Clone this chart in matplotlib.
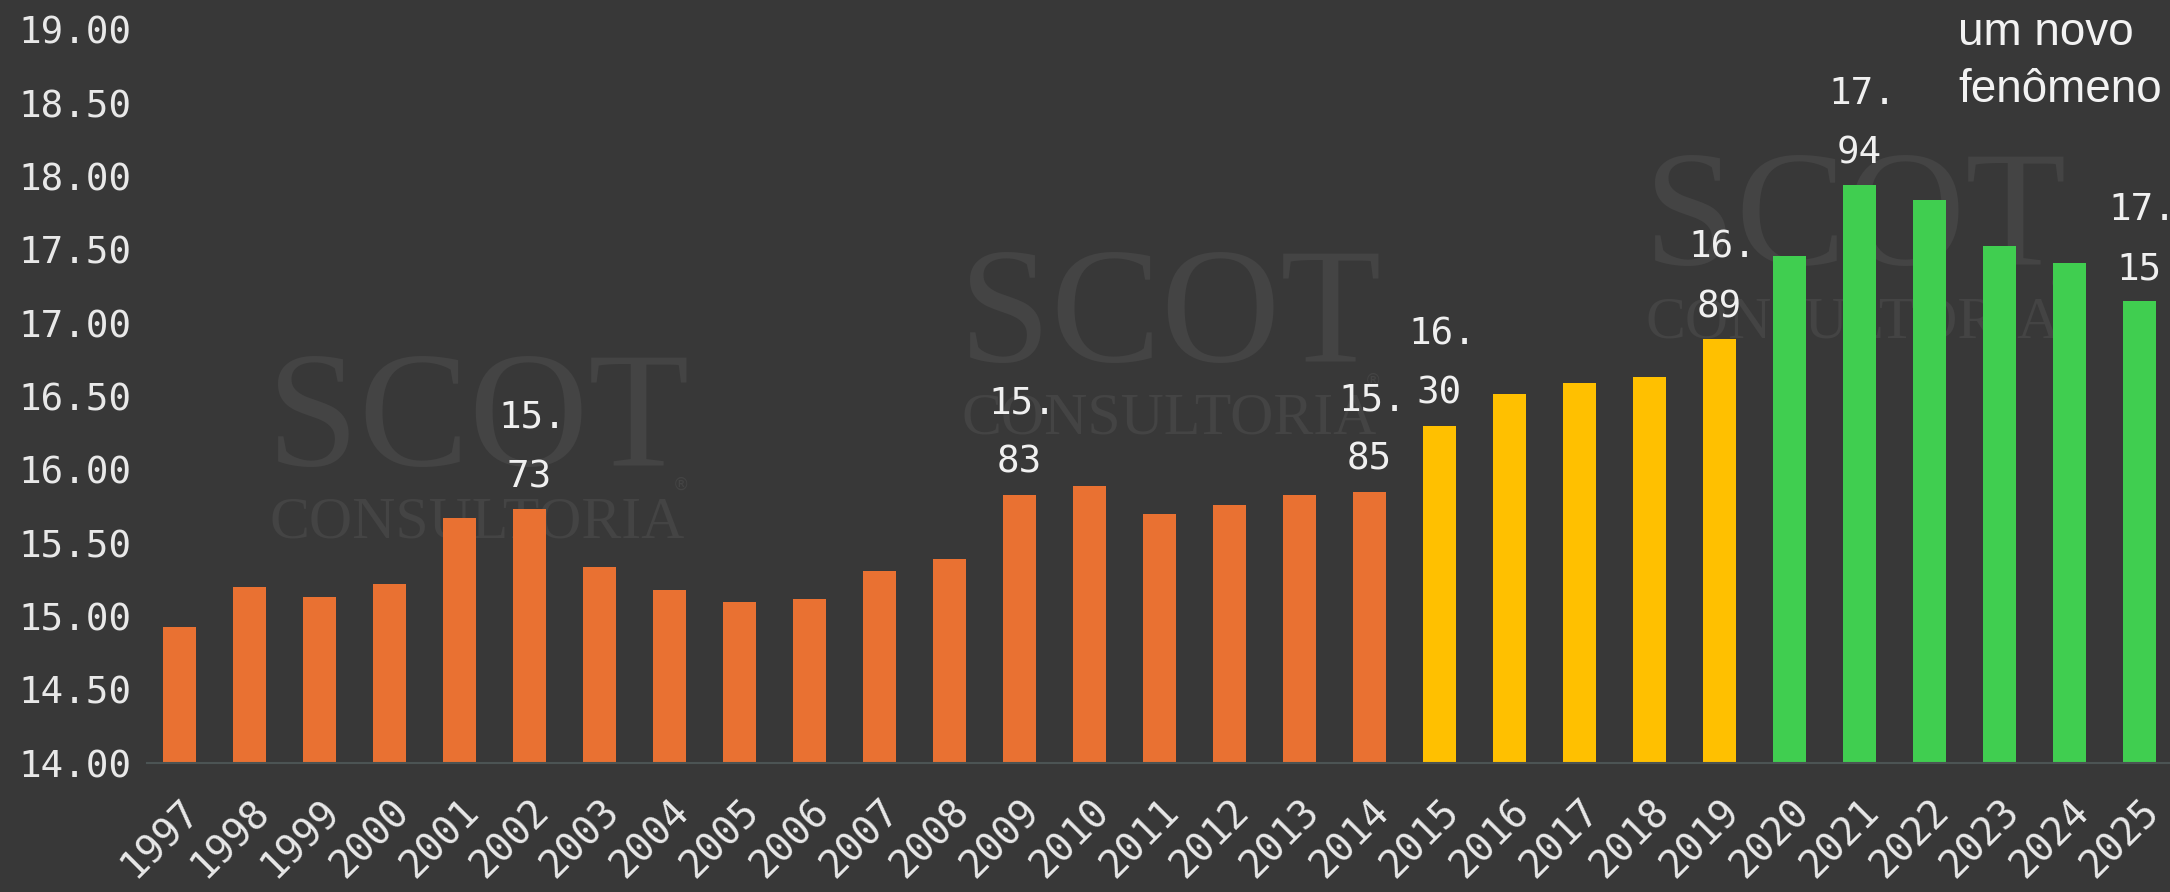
import matplotlib.pyplot as plt
from matplotlib.transforms import ScaledTranslation

# Data
years = [str(y) for y in range(1997, 2026)]
values = [14.93, 15.20, 15.13, 15.22, 15.67, 15.73, 15.34, 15.18, 15.10, 15.12,
          15.31, 15.39, 15.83, 15.89, 15.70, 15.76, 15.83, 15.85, 16.30, 16.52,
          16.59, 16.63, 16.89, 17.46, 17.94, 17.84, 17.53, 17.41, 17.15]
# period of each bar: 0 = 1997-2014, 1 = 2015-2019, 2 = 2020-2025
period = [0] * 18 + [1] * 5 + [2] * 6
labelled = ['2002', '2009', '2014', '2015', '2019', '2021', '2025']
yticks = [14.0, 14.5, 15.0, 15.5, 16.0, 16.5, 17.0, 17.5, 18.0, 18.5, 19.0]

bg = '#383838'
period_colors = ['#E97132', '#FFC000', '#40CE50']
W, H = 2170, 892

fig = plt.figure(figsize=(W / 100, H / 100), dpi=100)
fig.patch.set_facecolor(bg)


def fx(px):
    return px / W


def fy(px_from_top):
    return 1 - px_from_top / H


# Watermarks, kept behind the axes
wm_color = '#444444'
for left, top in [(273, 360), (965, 256), (1650, 159)]:
    fig.text(fx(left - 6), fy(top - 10), 'SCOT', family='Liberation Serif',
             fontsize=119, color=wm_color, va='top', ha='left', zorder=-1)
    fig.text(fx(left - 4), fy(top + 178), 'CONSULTORIA', family='Liberation Serif',
             fontsize=43, color=wm_color, va='baseline', ha='left', zorder=-1)
    fig.text(fx(left + 408), fy(top + 125), '®', family='DejaVu Sans',
             fontsize=12, color=wm_color, va='center', ha='center', zorder=-1)

ax = fig.add_axes([fx(147), fy(763), 1 - fx(147), fy(30) - fy(763)])
ax.set_facecolor('none')

x = list(range(len(years)))
colors = [period_colors[p] for p in period]
ax.bar(x, values, width=0.47, color=colors, zorder=2)

ax.set_xlim(-0.464, 28.44)
ax.set_ylim(14.0, 19.0)

ax.set_yticks(yticks)
ax.set_yticklabels([f'{v:.2f}' for v in yticks])
ax.set_xticks(x)
ax.set_xticklabels(years, rotation=45, ha='right', rotation_mode='anchor')

for lbl in ax.get_yticklabels():
    lbl.set_fontfamily('DejaVu Sans Mono')
    lbl.set_fontsize(27)
    lbl.set_color('#e8e8e8')
shift = ScaledTranslation(-8 / 100, 0, fig.dpi_scale_trans)
for lbl in ax.get_xticklabels():
    lbl.set_fontfamily('DejaVu Sans Mono')
    lbl.set_fontsize(28)
    lbl.set_color('#e8e8e8')
    lbl.set_transform(lbl.get_transform() + shift)

ax.tick_params(axis='y', length=0, pad=11)
ax.tick_params(axis='x', length=0, pad=21)

for side in ['top', 'right', 'left']:
    ax.spines[side].set_visible(False)
ax.spines['bottom'].set_color('#4c5454')
ax.spines['bottom'].set_linewidth(1.5)

# value labels split on two lines above selected bars
for xi, yr, v in zip(x, years, values):
    if yr not in labelled:
        continue
    whole, dec = f'{v:.2f}'.split('.')
    ax.annotate(whole + '.', (xi, v), xytext=(2, 66), textcoords='offset points',
                ha='center', va='center', family='DejaVu Sans Mono', fontsize=27,
                color='#f0f0f0', zorder=3)
    ax.annotate(dec, (xi, v), xytext=(0, 23), textcoords='offset points',
                ha='center', va='center', family='DejaVu Sans Mono', fontsize=27,
                color='#f0f0f0', zorder=3)

# note at top right
fig.text(fx(1958), fy(45), 'um novo', family='Liberation Sans', fontsize=33,
         color='#f2f2f2', va='baseline', ha='left')
fig.text(fx(1958), fy(102), 'fenômeno', family='Liberation Sans', fontsize=33,
         color='#f2f2f2', va='baseline', ha='left')

fig.savefig('out.png', dpi=100, facecolor=bg)
